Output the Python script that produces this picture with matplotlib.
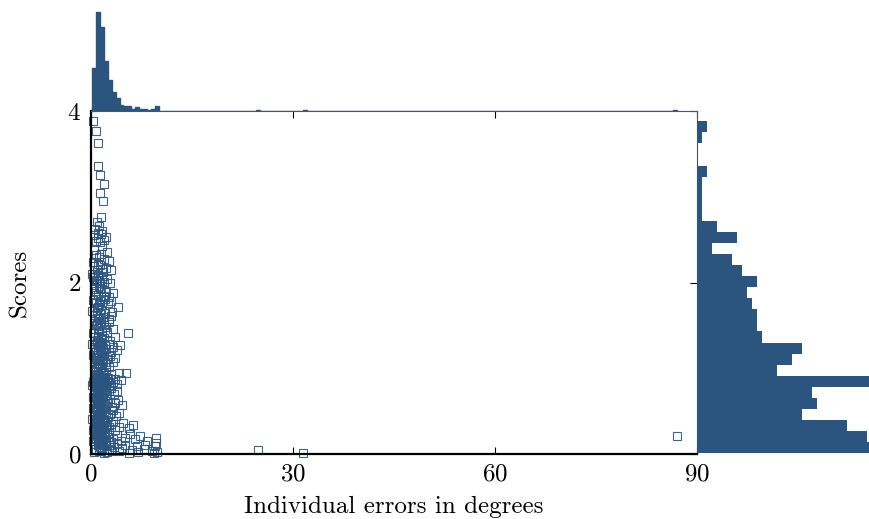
import numpy as np
import matplotlib
matplotlib.use("Agg")
import matplotlib.pyplot as plt

plt.rcParams["font.family"] = "serif"
plt.rcParams["font.serif"] = ["cmr10", "DejaVu Serif"]
plt.rcParams["mathtext.fontset"] = "cm"
plt.rcParams["axes.formatter.use_mathtext"] = True

BLUE = "#2b547e"

# scatter samples, grouped by score band (top to bottom)
errors_deg = [
    0.3, 0.74,
    1.04,
    1.04, 1.3,
    1.9,
    1.3,
    1.8,
    1.5,
    0.9, 1.2, 0.6, 1.6,
    0.4, 1.0, 1.5, 2.0, 0.8, 1.3, 2.3, 1.1,
    1.7, 0.5, 2.4,
    0.7, 1.2, 1.9, 0.3, 2.6, 1.0, 1.5,
    0.5, 0.9, 1.4, 1.8, 2.2, 0.2, 1.1, 2.9, 1.6,
    0.3, 0.7, 1.0, 1.3, 1.6, 2.0, 2.4, 0.5, 1.2, 1.9, 2.8, 0.9,
    0.4, 0.8, 1.1, 1.5, 1.9, 2.3, 2.7, 0.6, 1.3, 3.2,
    0.3, 0.7, 1.0, 1.4, 1.7, 2.1, 2.5, 3.0, 4.0, 0.9, 1.2,
    0.2, 0.6, 0.9, 1.2, 1.5, 1.8, 2.1, 2.6, 3.1, 1.0, 1.4, 2.9,
    0.4, 0.7, 1.0, 1.3, 1.6, 1.9, 2.3, 2.7, 3.3, 0.9, 1.2, 2.0,
    0.3, 0.6, 0.9, 1.1, 1.4, 1.7, 2.0, 2.4, 2.8, 3.5, 5.5, 1.0, 1.5,
    0.2, 0.4, 0.6, 0.8, 0.9, 1.0, 1.1, 1.2, 1.3, 1.4, 1.5, 1.6, 1.8, 1.9, 2.1, 2.3, 2.6, 2.9, 3.3, 3.8, 4.3,
    0.3, 0.5, 0.7, 0.85, 0.95, 1.05, 1.15, 1.25, 1.35, 1.45, 1.6, 1.7, 1.85, 2.0, 2.2, 2.5, 2.8, 3.2, 3.6,
    0.4, 0.6, 0.8, 0.9, 1.0, 1.1, 1.2, 1.35, 1.5, 1.7, 1.9, 2.2, 2.6, 3.0, 4.2, 5.2,
    0.2, 0.3, 0.4, 0.5, 0.6, 0.7, 0.75, 0.8, 0.85, 0.9,
    0.95, 1.0, 1.05, 1.1, 1.15, 1.2, 1.25, 1.3, 1.35, 1.4,
    1.5, 1.55, 1.6, 1.7, 1.8, 1.9, 2.0, 2.1, 2.2, 2.4,
    2.5, 2.6, 2.8, 3.0, 3.3, 3.6, 3.9, 4.4,
    0.25, 0.45, 0.6, 0.75, 0.85, 0.95, 1.0, 1.05, 1.15, 1.25,
    1.3, 1.35, 1.45, 1.6, 1.75, 1.9, 2.05, 2.2, 2.4, 2.7,
    3.0, 3.4, 3.9,
    0.3, 0.5, 0.65, 0.8, 0.9, 0.95, 1.0, 1.1, 1.2, 1.25,
    1.3, 1.4, 1.5, 1.65, 1.8, 1.95, 2.1, 2.3, 2.5, 2.8,
    3.1, 3.5, 4.0, 4.6,
    0.2, 0.4, 0.6, 0.8, 0.9, 1.0, 1.05, 1.1, 1.2, 1.35,
    1.4, 1.5, 1.65, 1.8, 2.0, 2.2, 2.5, 2.8, 3.2, 3.7,
    4.2,
    0.3, 0.45, 0.6, 0.7, 0.8, 0.9, 0.95, 1.0, 1.05, 1.1,
    1.15, 1.2, 1.3, 1.4, 1.5, 1.6, 1.7, 1.8, 1.9, 2.0,
    2.2, 2.4, 2.6, 2.9, 3.2, 3.6, 4.1, 4.8, 5.6, 6.2,
    0.25, 0.4, 0.55, 0.7, 0.8, 0.9, 1.0, 1.05, 1.1, 1.15,
    1.2, 1.25, 1.3, 1.4, 1.5, 1.6, 1.7, 1.8, 1.95, 2.1,
    2.3, 2.5, 2.7, 3.0, 3.3, 3.8, 4.4, 5.0, 5.8, 6.6,
    7.3, 8.3, 9.7, 87.0,
    0.5, 0.8, 1.0, 1.1, 1.2, 1.3, 1.45, 1.5, 1.6, 1.75,
    1.9, 2.0, 2.2, 2.3, 2.4, 2.6, 2.8, 3.1, 3.4, 3.8,
    4.1, 4.6, 5.0, 5.7, 6.1, 6.8, 7.0, 7.9, 8.0, 9.0,
    9.3, 9.5, 9.6, 9.8, 24.8, 31.5,
]
scores = [
    3.88, 3.77,
    3.63,
    3.36, 3.25,
    3.15,
    3.04,
    2.95,
    2.76,
    2.70, 2.66, 2.62, 2.60,
    2.55, 2.52, 2.57, 2.50, 2.48, 2.47, 2.53, 2.58,
    2.42, 2.38, 2.36,
    2.32, 2.30, 2.27, 2.24, 2.25, 2.22, 2.33,
    2.19, 2.15, 2.20, 2.12, 2.17, 2.10, 2.09, 2.14, 2.16,
    2.06, 2.03, 2.07, 1.99, 2.05, 2.01, 2.04, 1.97, 1.96, 1.98, 2.00, 2.02,
    1.93, 1.90, 1.86, 1.92, 1.84, 1.89, 1.83, 1.85, 1.94, 1.88,
    1.80, 1.77, 1.72, 1.79, 1.74, 1.81, 1.76, 1.78, 1.71, 1.70, 1.75,
    1.67, 1.62, 1.65, 1.58, 1.68, 1.60, 1.64, 1.57, 1.66, 1.59, 1.63, 1.61,
    1.55, 1.50, 1.47, 1.53, 1.44, 1.51, 1.48, 1.54, 1.46, 1.52, 1.45, 1.55,
    1.41, 1.37, 1.33, 1.40, 1.31, 1.38, 1.35, 1.42, 1.32, 1.36, 1.41, 1.36, 1.34,
    1.28, 1.22, 1.25, 1.19, 1.29, 1.23, 1.18, 1.27, 1.21, 1.26, 1.20, 1.29, 1.24, 1.18, 1.27, 1.22, 1.28, 1.19, 1.25, 1.21, 1.27,
    1.15, 1.09, 1.12, 1.06, 1.16, 1.10, 1.05, 1.13, 1.08, 1.15, 1.06, 1.12, 1.09, 1.16, 1.05, 1.11, 1.14, 1.07, 1.12,
    1.02, 0.96, 0.99, 0.93, 1.03, 0.97, 0.92, 1.00, 0.95, 1.02, 0.94, 0.98, 1.01, 0.93, 0.95, 0.94,
    0.80, 0.84, 0.88, 0.82, 0.86, 0.90, 0.81, 0.85, 0.89, 0.83,
    0.87, 0.80, 0.84, 0.88, 0.82, 0.86, 0.90, 0.81, 0.85, 0.89,
    0.83, 0.87, 0.80, 0.84, 0.88, 0.82, 0.86, 0.90, 0.81, 0.85,
    0.89, 0.83, 0.87, 0.80, 0.84, 0.88, 0.82, 0.86,
    0.67, 0.71, 0.75, 0.78, 0.69, 0.73, 0.77, 0.66, 0.70, 0.74,
    0.78, 0.68, 0.72, 0.76, 0.67, 0.71, 0.75, 0.78, 0.69, 0.73,
    0.77, 0.70, 0.74,
    0.54, 0.58, 0.62, 0.65, 0.56, 0.60, 0.64, 0.55, 0.59, 0.63,
    0.53, 0.57, 0.61, 0.65, 0.54, 0.58, 0.62, 0.56, 0.60, 0.64,
    0.55, 0.59, 0.63, 0.57,
    0.41, 0.45, 0.49, 0.52, 0.43, 0.47, 0.51, 0.42, 0.46, 0.50,
    0.44, 0.48, 0.52, 0.41, 0.45, 0.49, 0.43, 0.47, 0.51, 0.44,
    0.48,
    0.28, 0.32, 0.36, 0.39, 0.30, 0.34, 0.38, 0.29, 0.33, 0.37,
    0.31, 0.35, 0.39, 0.28, 0.32, 0.36, 0.30, 0.34, 0.38, 0.29,
    0.33, 0.37, 0.31, 0.35, 0.39, 0.28, 0.32, 0.36, 0.30, 0.34,
    0.15, 0.19, 0.23, 0.26, 0.17, 0.21, 0.25, 0.16, 0.20, 0.24,
    0.14, 0.18, 0.22, 0.26, 0.15, 0.19, 0.23, 0.17, 0.21, 0.25,
    0.16, 0.20, 0.24, 0.14, 0.18, 0.22, 0.15, 0.19, 0.23, 0.17,
    0.21, 0.15, 0.19, 0.21,
    0.02, 0.06, 0.10, 0.13, 0.04, 0.08, 0.12, 0.03, 0.07, 0.11,
    0.01, 0.05, 0.09, 0.13, 0.02, 0.06, 0.10, 0.04, 0.08, 0.12,
    0.03, 0.07, 0.11, 0.01, 0.05, 0.09, 0.02, 0.06, 0.10, 0.04,
    0.01, 0.09, 0.13, 0.02, 0.05, 0.01,
]
assert len(errors_deg) == len(scores)

# marginal histograms
err_range = (0.19, 87.0)
err_counts_head = [43, 98, 83, 50, 31, 19, 13, 6, 5, 5, 2, 4, 2, 2, 1, 2, 5]
err_outliers = [24.8, 31.5, 87.0]
n_err_bins = 150

score_range = (0.01, 3.88)
score_counts = [36, 34, 30, 21, 24, 23, 38, 16, 19, 21, 13, 12, 12, 11, 10,
                12, 9, 7, 3, 8, 4, 1, 1, 1, 1, 2, 0, 0, 1, 2]

x_ticks = [0, 30, 60, 90]
y_ticks = [0, 2, 4]


def main():
    fig = plt.figure(figsize=(8.69, 5.19), dpi=100)
    W, H = 869.0, 519.0
    x0, x1 = 91 / W, 697 / W
    y0, y1 = 1 - 454 / H, 1 - 111 / H

    ax = fig.add_axes([x0, y0, x1 - x0, y1 - y0])
    ax_top = fig.add_axes([x0, y1, x1 - x0, 1 - y1])
    ax_right = fig.add_axes([x1, y0, 1 - x1, y1 - y0])

    # main scatter
    ax.plot(errors_deg, scores, linestyle="none", marker="s", markersize=5.6,
            markerfacecolor="none", markeredgecolor=BLUE, markeredgewidth=0.8,
            alpha=0.9, clip_on=False)
    ax.set_xlim(0, 90)
    ax.set_ylim(0, 4)
    ax.set_xticks(x_ticks)
    ax.set_yticks(y_ticks)
    ax.tick_params(direction="in", top=True, right=True, length=5, width=0.8,
                   labelsize=18, pad=7)
    for side in ["left", "bottom"]:
        ax.spines[side].set_linewidth(1.6)
        ax.spines[side].set_color("black")
    for side in ["top", "right"]:
        ax.spines[side].set_linewidth(0.8)
        ax.spines[side].set_color("#555555")
    ax.set_xlabel("Individual errors in degrees", fontsize=18, labelpad=7)
    ax.set_ylabel("Scores", fontsize=18, labelpad=26)

    # top histogram of errors
    err_edges = np.linspace(err_range[0], err_range[1], n_err_bins + 1)
    tail, _ = np.histogram(err_outliers, bins=err_edges)
    err_counts = tail.copy()
    err_counts[:len(err_counts_head)] = err_counts_head
    ax_top.stairs(err_counts, err_edges, fill=True, color=BLUE,
                  linewidth=1.0)
    ax_top.stairs(err_counts, err_edges, fill=False, color=BLUE,
                  linewidth=1.0, baseline=0)
    ax_top.set_xlim(0, 90)
    ax_top.set_ylim(0, 110)
    ax_top.axis("off")

    # right histogram of scores
    score_edges = np.linspace(score_range[0], score_range[1], len(score_counts) + 1)
    ax_right.stairs(score_counts, score_edges, orientation="horizontal",
                    fill=True, color=BLUE, linewidth=1.0)
    ax_right.set_ylim(0, 4)
    ax_right.set_xlim(0, 34.5)
    ax_right.axis("off")

    fig.savefig("out.png", dpi=100)


if __name__ == "__main__":
    main()
